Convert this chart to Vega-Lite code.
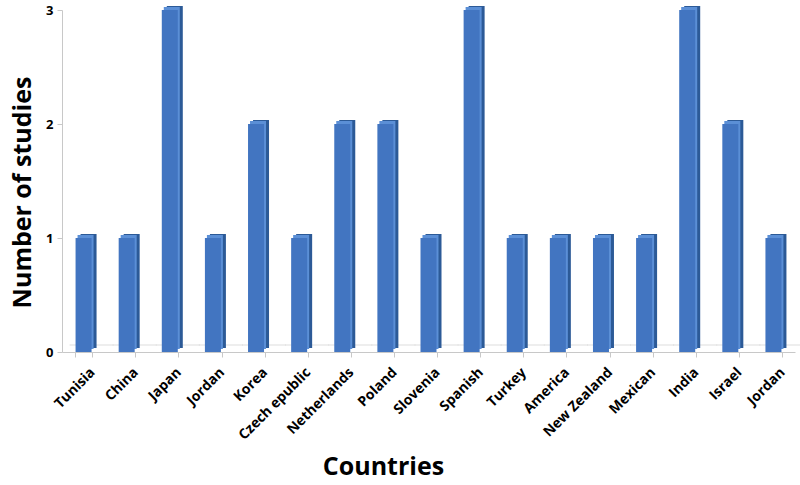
{
  "$schema": "https://vega.github.io/schema/vega-lite/v6.json",
  "autosize": {"type": "none"},
  "width": 733,
  "height": 342,
  "padding": {"left": 62, "top": 10, "right": 5, "bottom": 133},
  "background": "white",
  "config": {"view": {"stroke": null}, "font": "Open Sans"},
  "data": {
    "values": [
      {"country": "Tunisia", "studies": 1},
      {"country": "China", "studies": 1},
      {"country": "Japan", "studies": 3},
      {"country": "Jordan", "studies": 1},
      {"country": "Korea", "studies": 2},
      {"country": "Czech epublic", "studies": 1},
      {"country": "Netherlands", "studies": 2},
      {"country": "Poland", "studies": 2},
      {"country": "Slovenia", "studies": 1},
      {"country": "Spanish", "studies": 3},
      {"country": "Turkey", "studies": 1},
      {"country": "America", "studies": 1},
      {"country": "New Zealand", "studies": 1},
      {"country": "Mexican", "studies": 1},
      {"country": "India", "studies": 3},
      {"country": "Israel", "studies": 2},
      {"country": "Jordan#2", "studies": 1}
    ]
  },
  "layer": [
    {
      "mark": {"type": "tick", "color": "#d0d0d0", "yOffset": -7, "xOffset": 8, "thickness": 1, "orient": "horizontal", "size": 44},
      "encoding": {
        "x": {
          "field": "country",
          "type": "nominal",
          "sort": null,
          "scale": {"paddingInner": 0.6, "paddingOuter": 0.3},
          "axis": {
            "title": "Countries",
            "titleFontSize": 25,
            "titleFontWeight": "bold",
            "titleColor": "black",
            "titleX": 321,
            "titleY": 122,
            "titleAnchor": "middle",
            "titleBaseline": "alphabetic",
            "labelExpr": "datum.value ? split(datum.value, '#')[0] : ''",
            "labelAngle": -45,
            "labelFontSize": 14,
            "labelFontWeight": "bold",
            "labelColor": "black",
            "labelPadding": 8,
            "labelOffset": 4,
            "domainColor": "#c8c8c8",
            "tickColor": "#c8c8c8",
            "tickBand": "extent",
            "tickSize": 5
          }
        },
        "y": {
          "datum": 0,
          "type": "quantitative",
          "scale": {"domain": [0, 3], "nice": false},
          "axis": {
            "title": "Number of studies",
            "titleFontSize": 25,
            "titleFontWeight": "bold",
            "titleColor": "black",
            "titleX": -40,
            "titleY": 182,
            "titleAnchor": "middle",
            "titleBaseline": "middle",
            "values": [0, 1, 2, 3],
            "format": "d",
            "labelFontSize": 13,
            "labelFontWeight": "bold",
            "labelColor": "black",
            "labelPadding": 4,
            "grid": false,
            "domainColor": "#c8c8c8",
            "tickColor": "#c8c8c8",
            "tickSize": 5
          }
        }
      }
    },
    {
      "mark": {"type": "bar", "color": "#2c5a97", "xOffset": 5, "yOffset": -4, "size": 16},
      "encoding": {
        "x": {"field": "country", "type": "nominal", "sort": null},
        "y": {"field": "studies", "type": "quantitative"}
      }
    },
    {
      "mark": {"type": "bar", "color": "#5b8fd6", "xOffset": 2, "yOffset": -3, "size": 16},
      "encoding": {
        "x": {"field": "country", "type": "nominal", "sort": null},
        "y": {"field": "studies", "type": "quantitative"}
      }
    },
    {
      "mark": {"type": "bar", "color": "#4275c1", "size": 16},
      "encoding": {
        "x": {"field": "country", "type": "nominal", "sort": null},
        "y": {"field": "studies", "type": "quantitative"}
      }
    }
  ]
}
